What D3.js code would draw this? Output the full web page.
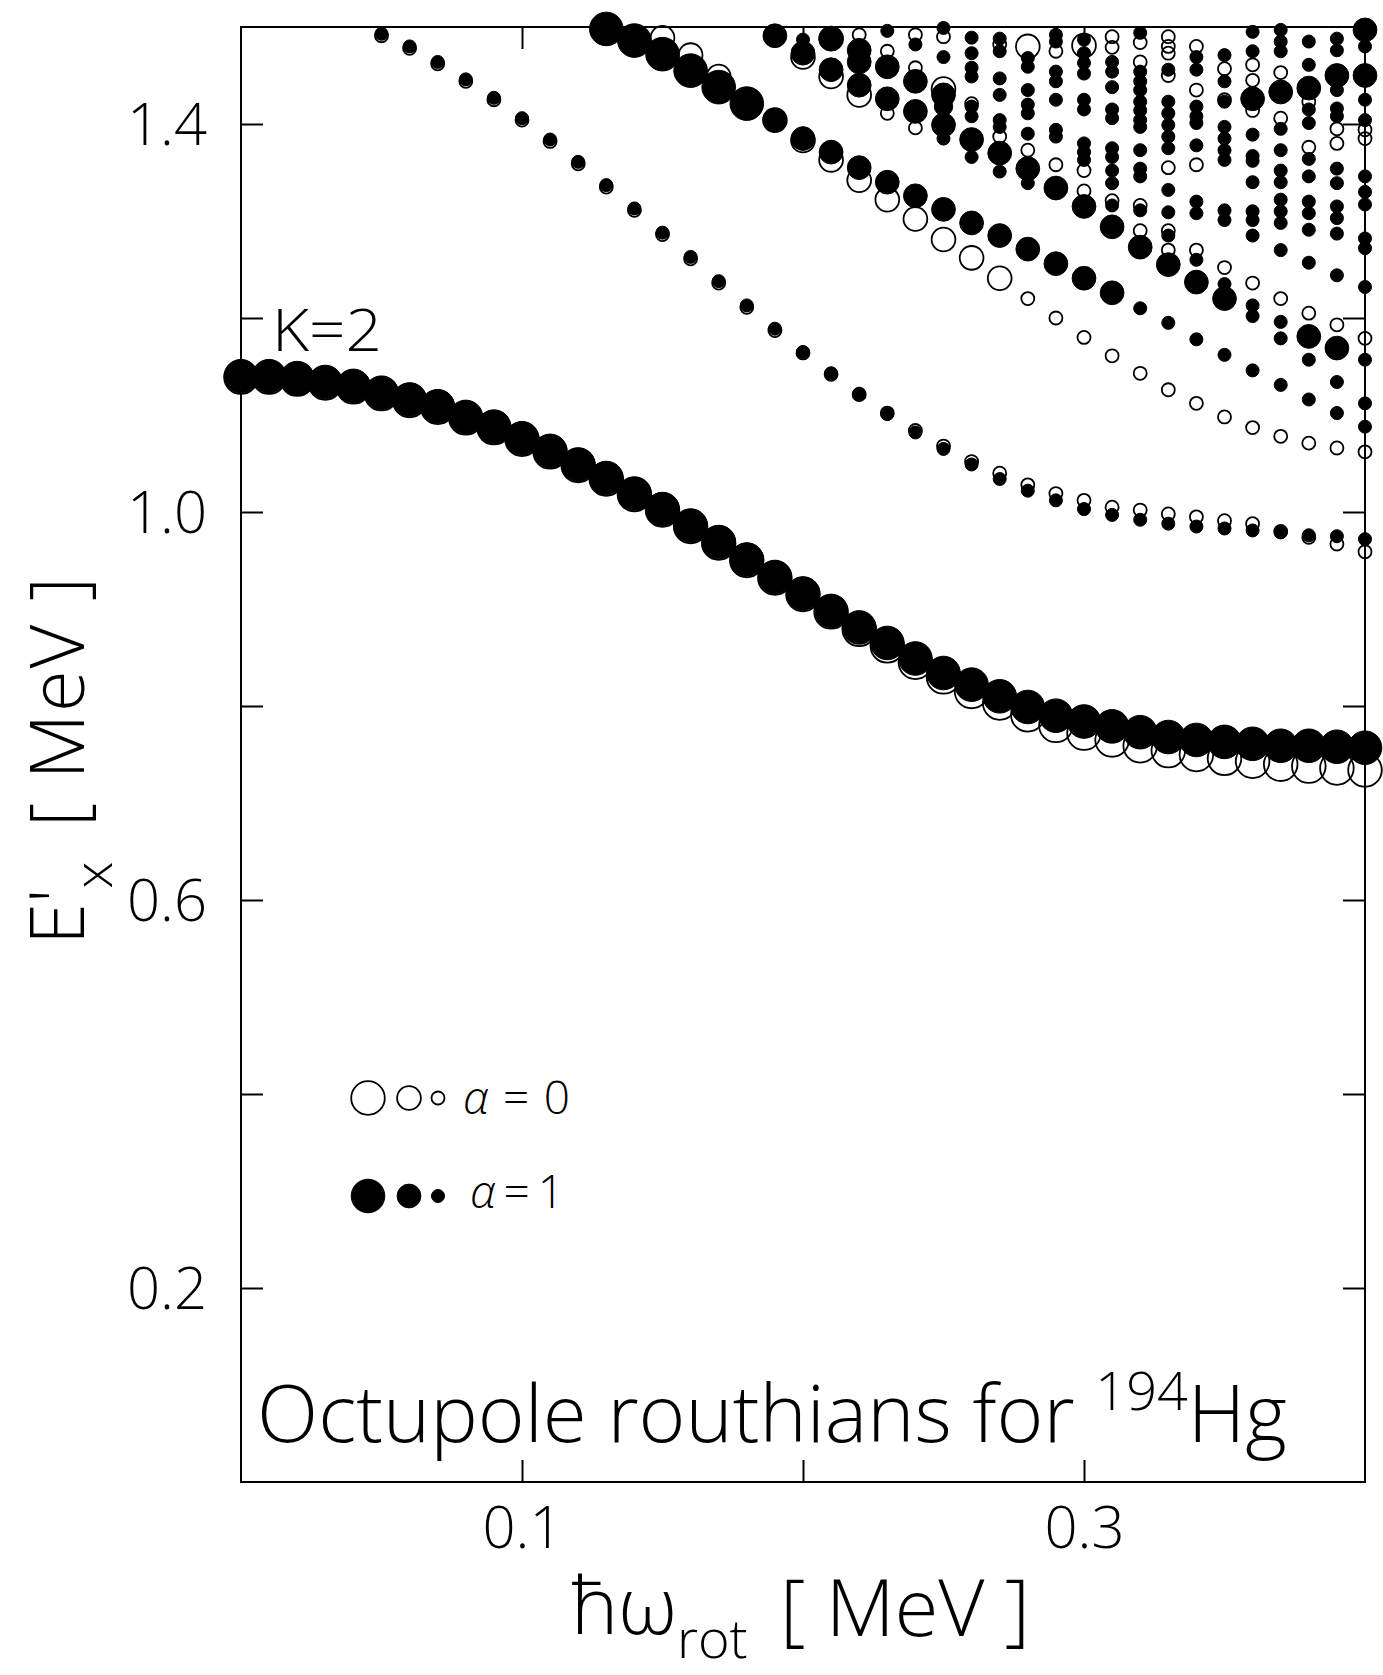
<!DOCTYPE html>
<html>
<head>
<meta charset="utf-8">
<script src="https://cdn.jsdelivr.net/npm/d3@7"></script>
<style>
  html, body { margin: 0; padding: 0; background: #fff; }
  svg { display: block; }
</style>
</head>
<body>
<div id="chart"></div>
<script>
// ---------------- DATA ----------------
// rotational frequency grid (MeV)
const omega = [0.00,0.01,0.02,0.03,0.04,0.05,0.06,0.07,0.08,0.09,0.10,0.11,0.12,0.13,0.14,0.15,0.16,0.17,0.18,0.19,0.20,
               0.21,0.22,0.23,0.24,0.25,0.26,0.27,0.28,0.29,0.30,0.31,0.32,0.33,0.34,0.35,0.36,0.37,0.38,0.39,0.40];

// lowest (K=2) octupole routhian, alpha = 1 and alpha = 0
const K2_alpha1 = [1.140,1.140,1.138,1.134,1.130,1.123,1.116,1.109,1.098,1.088,1.076,1.063,1.049,1.035,1.019,1.003,0.986,0.969,0.951,0.933,0.916,
                   0.898,0.881,0.865,0.849,0.834,0.822,0.810,0.799,0.790,0.784,0.779,0.773,0.768,0.765,0.763,0.761,0.759,0.759,0.758,0.757];
const K2_alpha0 = [1.139,1.139,1.137,1.133,1.129,1.122,1.115,1.108,1.097,1.087,1.075,1.062,1.048,1.034,1.018,1.002,0.985,0.968,0.950,0.932,0.915,
                   0.897,0.879,0.862,0.845,0.830,0.815,0.803,0.791,0.780,0.772,0.765,0.759,0.754,0.750,0.746,0.743,0.740,0.738,0.736,0.734];
const K2_strength = [1,1,1,1,1,1,1,1,1,1,1,1,1,1,1,1,1,1,1,1,1,1,1,1,1,1,1,1,1,1,1,1,1,1,1,1,1,1,1,1,1];

// second band (weak)
const bandA_alpha1 = [null,null,null,null,null,1.493,1.480,1.464,1.446,1.427,1.406,1.384,1.361,1.337,1.313,1.288,1.263,1.238,1.213,1.189,1.165,
                      1.143,1.122,1.101,1.082,1.065,1.049,1.034,1.022,1.012,1.003,0.997,0.992,0.988,0.985,0.983,0.981,0.979,0.976,0.975,0.972];
const bandA_alpha0 = [null,null,null,null,null,1.491,1.478,1.462,1.444,1.425,1.404,1.382,1.359,1.335,1.311,1.286,1.261,1.236,1.211,1.187,1.164,
                      1.142,1.121,1.102,1.084,1.068,1.052,1.040,1.028,1.019,1.012,1.005,1.002,0.998,0.995,0.991,0.988,0.980,0.974,0.967,0.959];
const bandA_strength = [null,null,null,null,null,0.15,0.15,0.15,0.15,0.15,0.15,0.15,0.15,0.15,0.15,0.15,0.15,0.15,0.15,0.15,0.15,
                        0.15,0.15,0.15,0.15,0.15,0.15,0.15,0.15,0.15,0.15,0.15,0.15,0.15,0.15,0.15,0.15,0.15,0.15,0.15,0.15];

// third band, alpha = 1
const bandB_alpha1 = [null,null,null,null,null,null,null,null,null,null,null,null,null,1.498,1.486,1.472,1.455,1.438,1.421,1.404,1.385,
                      1.371,1.355,1.340,1.326,1.312,1.298,1.285,1.271,1.256,1.241,1.226,1.210,1.195,1.178,1.162,1.146,1.131,1.116,1.102,1.088];
const bandB_strength = [null,null,null,null,null,null,null,null,null,null,null,null,null,1,1,1,1,1,1,0.5,0.5,
                        0.5,0.5,0.5,0.5,0.5,0.5,0.5,0.5,0.5,0.5,0.5,0.15,0.15,0.15,0.15,0.15,0.15,0.15,0.15,0.15];

// third band, alpha = 0
const bandC_alpha0 = [null,null,null,null,null,null,null,null,null,null,null,null,null,null,null,1.489,1.471,1.449,1.425,1.404,1.383,
                      1.363,1.342,1.322,1.302,1.281,1.262,1.241,1.220,1.200,1.180,1.161,1.143,1.126,1.112,1.098,1.087,1.078,1.071,1.066,1.062];
const bandC_strength = [null,null,null,null,null,null,null,null,null,null,null,null,null,null,null,0.5,0.5,0.5,0.5,0.5,0.5,
                        0.5,0.5,0.5,0.5,0.5,0.5,0.5,0.15,0.15,0.15,0.15,0.15,0.15,0.15,0.15,0.15,0.15,0.15,0.15,0.15];

// dense region of higher routhians: [omega, E'x, strength]
const dense_alpha1 = [
  [0.19,1.491,0.5],
  [0.20,1.487,0.15],[0.20,1.473,0.5],
  [0.21,1.488,0.55],[0.21,1.456,0.5],
  [0.22,1.476,0.5],[0.22,1.464,0.5],[0.22,1.440,0.5],
  [0.23,1.496,0.15],[0.23,1.459,0.5],[0.23,1.426,0.5],
  [0.24,1.482,0.15],[0.24,1.444,0.5],[0.24,1.413,0.5],
  [0.25,1.499,0.15],[0.25,1.469,0.15],[0.25,1.430,0.5],[0.25,1.418,0.3],[0.25,1.399,0.5],[0.25,1.385,0.15],
  [0.26,1.489,0.15],[0.26,1.473,0.15],[0.26,1.458,0.15],[0.26,1.449,0.15],[0.26,1.418,0.15],[0.26,1.408,0.15],[0.26,1.384,0.5],[0.26,1.366,0.15],
  [0.27,1.488,0.15],[0.27,1.475,0.15],[0.27,1.447,0.15],[0.27,1.430,0.15],[0.27,1.404,0.15],[0.27,1.397,0.15],[0.27,1.370,0.5],[0.27,1.351,0.15],
  [0.28,1.468,0.15],[0.28,1.459,0.15],[0.28,1.435,0.15],[0.28,1.420,0.15],[0.28,1.411,0.15],[0.28,1.390,0.15],[0.28,1.354,0.5],[0.28,1.339,0.15],
  [0.29,1.492,0.15],[0.29,1.485,0.15],[0.29,1.454,0.15],[0.29,1.444,0.15],[0.29,1.425,0.15],[0.29,1.394,0.15],[0.29,1.387,0.15],[0.29,1.334,0.5],
  [0.30,1.487,0.15],[0.30,1.473,0.15],[0.30,1.463,0.15],[0.30,1.452,0.15],[0.30,1.425,0.15],[0.30,1.415,0.15],[0.30,1.380,0.15],[0.30,1.371,0.15],[0.30,1.363,0.15],[0.30,1.315,0.5],
  [0.31,1.464,0.15],[0.31,1.454,0.15],[0.31,1.438,0.15],[0.31,1.415,0.15],[0.31,1.406,0.15],[0.31,1.375,0.15],[0.31,1.366,0.15],[0.31,1.352,0.15],[0.31,1.339,0.15],[0.31,1.316,0.15],[0.31,1.294,0.5],
  [0.32,1.494,0.15],[0.32,1.454,0.15],[0.32,1.444,0.15],[0.32,1.435,0.15],[0.32,1.423,0.15],[0.32,1.414,0.15],[0.32,1.404,0.15],[0.32,1.397,0.15],[0.32,1.373,0.15],[0.32,1.354,0.15],[0.32,1.346,0.15],[0.32,1.311,0.15],[0.32,1.273,0.5],
  [0.33,1.456,0.15],[0.33,1.423,0.15],[0.33,1.411,0.15],[0.33,1.399,0.15],[0.33,1.387,0.15],[0.33,1.375,0.15],[0.33,1.332,0.15],[0.33,1.309,0.15],[0.33,1.285,0.15],[0.33,1.255,0.5],
  [0.34,1.469,0.15],[0.34,1.456,0.15],[0.34,1.418,0.15],[0.34,1.408,0.15],[0.34,1.401,0.15],[0.34,1.378,0.15],[0.34,1.320,0.15],[0.34,1.308,0.15],[0.34,1.260,0.15],[0.34,1.237,0.5],
  [0.35,1.471,0.15],[0.35,1.444,0.15],[0.35,1.423,0.15],[0.35,1.397,0.15],[0.35,1.385,0.15],[0.35,1.373,0.15],[0.35,1.363,0.15],[0.35,1.311,0.15],[0.35,1.301,0.15],[0.35,1.235,0.15],[0.35,1.220,0.5],
  [0.36,1.495,0.15],[0.36,1.475,0.15],[0.36,1.426,0.5],[0.36,1.389,0.15],[0.36,1.367,0.15],[0.36,1.362,0.15],[0.36,1.340,0.15],[0.36,1.310,0.15],[0.36,1.301,0.15],[0.36,1.285,0.15],[0.36,1.213,0.15],[0.36,1.202,0.15],
  [0.37,1.497,0.15],[0.37,1.485,0.15],[0.37,1.475,0.15],[0.37,1.433,0.5],[0.37,1.395,0.15],[0.37,1.373,0.15],[0.37,1.352,0.15],[0.37,1.340,0.15],[0.37,1.322,0.15],[0.37,1.310,0.15],[0.37,1.298,0.15],[0.37,1.270,0.15],[0.37,1.196,0.15],[0.37,1.179,0.15],
  [0.38,1.485,0.15],[0.38,1.461,0.15],[0.38,1.437,0.5],[0.38,1.415,0.15],[0.38,1.401,0.15],[0.38,1.364,0.15],[0.38,1.346,0.15],[0.38,1.320,0.15],[0.38,1.308,0.15],[0.38,1.291,0.15],[0.38,1.257,0.15],[0.38,1.181,0.5],[0.38,1.157,0.15],
  [0.39,1.488,0.15],[0.39,1.476,0.15],[0.39,1.450,0.5],[0.39,1.435,0.15],[0.39,1.416,0.15],[0.39,1.408,0.15],[0.39,1.354,0.15],[0.39,1.339,0.15],[0.39,1.315,0.15],[0.39,1.303,0.15],[0.39,1.287,0.15],[0.39,1.244,0.15],[0.39,1.169,0.5],[0.39,1.134,0.15],
  [0.40,1.497,0.5],[0.40,1.480,0.15],[0.40,1.450,0.5],[0.40,1.425,0.15],[0.40,1.404,0.15],[0.40,1.346,0.15],[0.40,1.330,0.15],[0.40,1.317,0.15],[0.40,1.282,0.15],[0.40,1.272,0.15],[0.40,1.232,0.15],[0.40,1.157,0.15],[0.40,1.112,0.15]
];
const dense_alpha0 = [
  [0.20,1.469,0.5],
  [0.21,1.449,0.5],
  [0.22,1.492,0.15],[0.22,1.430,0.5],
  [0.23,1.475,0.15],[0.23,1.411,0.15],
  [0.24,1.492,0.15],[0.24,1.458,0.15],[0.24,1.396,0.15],
  [0.25,1.490,0.15],[0.25,1.436,0.5],
  [0.26,1.421,0.15],
  [0.27,1.482,0.15],[0.27,1.387,0.15],
  [0.28,1.480,0.5],[0.28,1.373,0.15],
  [0.29,1.475,0.15],[0.29,1.358,0.15],
  [0.30,1.481,0.5],[0.30,1.352,0.15],[0.30,1.331,0.15],
  [0.31,1.490,0.15],[0.31,1.479,0.15],[0.31,1.321,0.15],
  [0.32,1.484,0.15],[0.32,1.464,0.15],[0.32,1.316,0.15],[0.32,1.290,0.15],
  [0.33,1.490,0.15],[0.33,1.480,0.15],[0.33,1.473,0.15],[0.33,1.450,0.15],[0.33,1.355,0.15],[0.33,1.290,0.15],[0.33,1.270,0.15],
  [0.34,1.480,0.15],[0.34,1.435,0.15],[0.34,1.358,0.15],[0.34,1.270,0.15],
  [0.35,1.457,0.15],[0.35,1.425,0.15],[0.35,1.252,0.15],
  [0.36,1.461,0.15],[0.36,1.445,0.15],[0.36,1.414,0.15],[0.36,1.236,0.15],
  [0.37,1.453,0.15],[0.37,1.406,0.15],[0.37,1.220,0.15],
  [0.38,1.423,0.15],[0.38,1.376,0.15],[0.38,1.205,0.15],
  [0.39,1.395,0.15],[0.39,1.380,0.15],[0.39,1.193,0.15],
  [0.40,1.394,0.15],[0.40,1.385,0.15],[0.40,1.179,0.15]
];

// axes
const xTicks = [0.1, 0.2, 0.3];
const xTickLabels = [0.1, 0.3];
const yTicks = [0.2, 0.4, 0.6, 0.8, 1.0, 1.2, 1.4];
const yTickLabels = [0.2, 0.6, 1.0, 1.4];

// legend
const legendAlphas = [0, 1];
const legendStrengths = [1, 0.5, 0.15];

// ---------------- DRAWING ----------------
const W = 1383, H = 1675;
const plot = { left: 241, right: 1365, top: 27, bottom: 1482 };
const FONT = "'Open Sans', 'Liberation Sans', 'DejaVu Sans', sans-serif";
const FW = 300;

const svg = d3.select("#chart").append("svg")
  .attr("width", W).attr("height", H)
  .attr("font-family", FONT).attr("font-weight", FW);

const x = d3.scaleLinear().domain([0, 0.4]).range([plot.left, plot.right]);
const y = d3.scaleLinear().domain([0, 1.5]).range([plot.bottom, plot.top]);
const rad = d3.scaleSqrt().domain([0, 1]).range([0, 16.8]);

function band(vals, strength) {
  return omega.map((w, i) => vals[i] == null ? null : { w: w, e: vals[i], s: strength[i] })
              .filter(d => d !== null);
}
function dense(arr) { return arr.map(d => ({ w: d[0], e: d[1], s: d[2] })); }

const openPts = [].concat(
  band(K2_alpha0, K2_strength),
  band(bandA_alpha0, bandA_strength),
  band(bandC_alpha0, bandC_strength),
  dense(dense_alpha0)
);
const filledPts = [].concat(
  band(K2_alpha1, K2_strength),
  band(bandA_alpha1, bandA_strength),
  band(bandB_alpha1, bandB_strength),
  dense(dense_alpha1)
);

// frame
svg.append("rect")
  .attr("x", plot.left).attr("y", plot.top)
  .attr("width", plot.right - plot.left).attr("height", plot.bottom - plot.top)
  .attr("fill", "none").attr("stroke", "#000").attr("stroke-width", 2);

const TICK = 22;
const near = (a, list) => list.some(v => Math.abs(v - a) < 1e-9);
const fmt = d3.format(".1f");

const gB = svg.append("g").attr("transform", `translate(0,${plot.bottom})`)
  .call(d3.axisBottom(x).tickValues(xTicks).tickSize(-TICK).tickPadding(0)
        .tickFormat(d => near(d, xTickLabels) ? fmt(d) : ""));
const gT = svg.append("g").attr("transform", `translate(0,${plot.top})`)
  .call(d3.axisTop(x).tickValues(xTicks).tickSize(-TICK).tickFormat(""));
const gL = svg.append("g").attr("transform", `translate(${plot.left},0)`)
  .call(d3.axisLeft(y).tickValues(yTicks).tickSize(-TICK).tickPadding(0)
        .tickFormat(d => near(d, yTickLabels) ? fmt(d) : ""));
const gR = svg.append("g").attr("transform", `translate(${plot.right},0)`)
  .call(d3.axisRight(y).tickValues(yTicks).tickSize(-TICK).tickFormat(""));

[gB, gT, gL, gR].forEach(g => {
  g.select(".domain").remove();
  g.selectAll(".tick line").attr("stroke", "#000").attr("stroke-width", 2);
  g.selectAll("text").attr("font-family", FONT).attr("font-weight", FW).attr("fill", "#000");
});
gB.selectAll(".tick text").attr("y", 66).attr("dy", null).attr("font-size", 58);
gL.selectAll(".tick text").attr("x", -34).attr("dy", "0.36em").attr("font-size", 58);

// data points: alpha = 0 open, alpha = 1 filled
svg.append("g").selectAll("circle").data(openPts).join("circle")
  .attr("cx", d => x(d.w)).attr("cy", d => y(d.e)).attr("r", d => rad(d.s))
  .attr("fill", "none").attr("stroke", "#000").attr("stroke-width", 1.8);
svg.append("g").selectAll("circle").data(filledPts).join("circle")
  .attr("cx", d => x(d.w)).attr("cy", d => y(d.e)).attr("r", d => rad(d.s))
  .attr("fill", "#000").attr("stroke", "#000").attr("stroke-width", 1);

// K=2 label
svg.append("text").attr("x", 272).attr("y", 351).attr("font-size", 58)
  .attr("textLength", 110).attr("lengthAdjust", "spacingAndGlyphs").text("K=2");

// legend
const legendX = [368, 409, 438];
const legendY = [1098, 1196];
const legendTextX = [463, 470];
const legendTextY = [1114, 1208];
legendAlphas.forEach((a, row) => {
  legendStrengths.forEach((s, i) => {
    svg.append("circle").attr("cx", legendX[i]).attr("cy", legendY[row]).attr("r", rad(s))
      .attr("fill", a === 1 ? "#000" : "none").attr("stroke", "#000")
      .attr("stroke-width", a === 1 ? 1 : 1.8);
  });
  const t = svg.append("text").attr("x", legendTextX[row]).attr("y", legendTextY[row])
    .attr("font-size", 46)
    .attr("textLength", row === 0 ? 107 : 94).attr("lengthAdjust", "spacing");
  t.append("tspan").attr("font-style", "italic").text("α");
  t.append("tspan").text("=" + a);
});

// title inside the plot
const title = svg.append("text").attr("x", 257).attr("y", 1442).attr("font-size", 80);
title.append("tspan").text("Octupole routhians for ");
title.append("tspan").attr("font-size", 54).attr("dy", -32).text("194");
title.append("tspan").attr("dy", 32).text("Hg");

// x-axis title
const xt = svg.append("text").attr("x", 571).attr("y", 1634).attr("font-size", 80);
xt.append("tspan").text("ħω");
xt.append("tspan").attr("font-size", 54).attr("dy", 24).text("rot");
svg.append("text").attr("x", 780).attr("y", 1636).attr("font-size", 80)
  .attr("textLength", 250).attr("lengthAdjust", "spacing").text("[ MeV ]");

// y-axis title (rotated)
const yg = svg.append("g").attr("transform", "translate(84,0) rotate(-90)");
const yt = yg.append("text").attr("x", -945).attr("y", 0).attr("font-size", 76);
yt.append("tspan").text("E'");
yt.append("tspan").attr("font-size", 54).attr("dy", 28).text("x");
yg.append("text").attr("x", -827).attr("y", 0).attr("font-size", 76)
  .attr("textLength", 250).attr("lengthAdjust", "spacing").text("[ MeV ]");
</script>
</body>
</html>
